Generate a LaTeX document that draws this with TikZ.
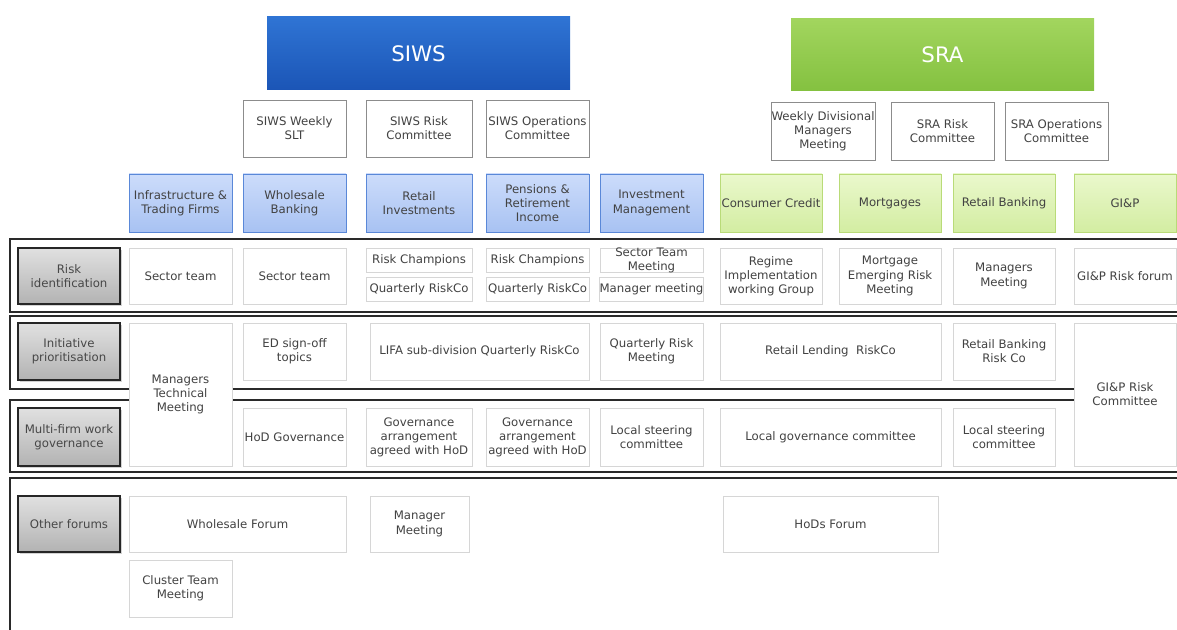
\documentclass[tikz,border=0pt]{standalone}
\usepackage{fontspec}
\setmainfont{DejaVu Sans}
\usetikzlibrary{shadows}
\definecolor{txt}{HTML}{424242}
\definecolor{cellborder}{HTML}{D6D6D6}
\definecolor{comborder}{HTML}{8C8C8C}
\definecolor{bluetop}{HTML}{CCDCFB}
\definecolor{bluebot}{HTML}{A8C2F2}
\definecolor{blueedge}{HTML}{5A88D8}
\definecolor{greentop}{HTML}{EAF8CC}
\definecolor{greenbot}{HTML}{D3EDA2}
\definecolor{greenedge}{HTML}{B9DB78}
\definecolor{siwstop}{HTML}{2F74D4}
\definecolor{siwsbot}{HTML}{1B55B6}
\definecolor{sratop}{HTML}{A2D55E}
\definecolor{srabot}{HTML}{84C140}
\definecolor{frame}{HTML}{2A2A2A}
\newcommand\mybox[7]{\node[#2, minimum width={(#5-#3)*0.75pt}, minimum height={(#6-#4)*0.75pt}] (#1) at ({(#3+#5)/2},{(#4+#6)/2}) {#7};}
\tikzset{
  base/.style={rectangle, align=center, inner sep=1pt, font=\fontsize{8.8}{10.6}\selectfont, text=txt},
  cell/.style={base, draw=cellborder, fill=white, line width=0.6pt},
  com/.style={base, draw=comborder, fill=white, line width=0.7pt},
  bluediv/.style={base, draw=blueedge, line width=0.7pt, top color=bluetop, bottom color=bluebot},
  greendiv/.style={base, draw=greenedge, line width=0.7pt, top color=greentop, bottom color=greenbot},
  rowlabel/.style={base, draw=black!85, line width=0.9pt, top color=black!12, bottom color=black!30, text=black!72,
     drop shadow={shadow xshift=1.2pt, shadow yshift=-1.2pt, opacity=0.35}},
  title/.style={base, font=\fontsize{16}{18}\selectfont, text=white},
  band/.style={draw=frame, line width=1.2pt},
  overtext/.style={base, inner sep=0pt},
}
\begin{document}
\begin{tikzpicture}[x=0.75pt, y=-0.75pt]
\useasboundingbox (0,0) rectangle (1177,630);
% bands
\draw[band] (1177,239) -- (10,239) -- (10,312) -- (1177,312);
\draw[band] (1076,389) -- (10,389) -- (10,316) -- (1177,316);
\draw[band] (1076,400) -- (10,400) -- (10,472) -- (1177,472);
\draw[band] (10,630) -- (10,478) -- (1177,478);
% titles
\mybox{siws}{title, top color=siwstop, bottom color=siwsbot}{267}{17}{570}{90}{SIWS}
\mybox{sra}{title, top color=sratop, bottom color=srabot}{791}{19}{1094}{91}{SRA}
% committees
\mybox{c1}{com}{243}{100}{346}{157}{SIWS Weekly\\SLT}
\mybox{c2}{com}{366}{100}{472}{157}{SIWS Risk\\Committee}
\mybox{c3}{com, inner xsep=0pt}{486}{100}{589}{157}{SIWS Operations\\Committee}
\mybox{c4}{com, inner xsep=0pt}{771}{102}{875}{160}{Weekly Divisional\\Managers\\Meeting}
\mybox{c5}{com}{891}{102}{994}{160}{SRA Risk\\Committee}
\mybox{c6}{com}{1005}{102}{1108}{160}{SRA Operations\\Committee}
% divisions
\mybox{d1}{bluediv, inner xsep=0pt}{129}{174}{232}{232}{Infrastructure \&\\Trading Firms}
\mybox{d2}{bluediv}{243}{174}{346}{232}{Wholesale\\Banking}
\mybox{d3}{bluediv}{366}{174}{472}{232}{Retail\\Investments}
\mybox{d4}{bluediv}{486}{174}{589}{232}{Pensions \&\\Retirement\\Income}
\mybox{d5}{bluediv}{600}{174}{703}{232}{Investment\\Management}
\mybox{d6}{greendiv, inner xsep=0pt}{720}{174}{822}{232}{Consumer Credit}
\mybox{d7}{greendiv}{839}{174}{941}{232}{Mortgages}
\mybox{d8}{greendiv}{953}{174}{1055}{232}{Retail Banking}
\mybox{d9}{greendiv}{1074}{174}{1176}{232}{GI\&P}
% row labels
\mybox{l1}{rowlabel}{18}{248}{120}{304}{Risk\\identification}
\mybox{l2}{rowlabel}{18}{323}{120}{380}{Initiative\\prioritisation}
\mybox{l3}{rowlabel}{18}{408}{120}{466}{Multi-firm work\\governance}
\mybox{l4}{rowlabel}{18}{496}{120}{552}{Other forums}
% row 1
\mybox{r1a}{cell}{129}{248}{232}{304}{Sector team}
\mybox{r1b}{cell}{243}{248}{346}{304}{Sector team}
\mybox{r1c}{cell}{366}{248}{472}{272}{Risk Champions}
\mybox{r1d}{cell}{366}{277}{472}{301}{Quarterly RiskCo}
\mybox{r1e}{cell}{486}{248}{589}{272}{Risk Champions}
\mybox{r1f}{cell, inner xsep=0pt}{486}{277}{589}{301}{Quarterly RiskCo}
\mybox{r1g}{cell}{600}{248}{703}{272}{}
\node[overtext] (r1gt) at (r1g.center) {Sector Team\\Meeting};
\mybox{r1h}{cell, inner xsep=0pt}{600}{277}{703}{301}{Manager meeting}
\mybox{r1i}{cell}{720}{248}{822}{304}{Regime\\Implementation\\working Group}
\mybox{r1j}{cell}{839}{248}{941}{304}{Mortgage\\Emerging Risk\\Meeting}
\mybox{r1k}{cell}{953}{248}{1055}{304}{Managers\\Meeting}
\mybox{r1l}{cell, inner xsep=0pt}{1074}{248}{1176}{304}{GI\&P Risk forum}
% row 2
\mybox{r2a}{cell}{129}{323}{232}{466}{Managers\\Technical\\Meeting}
\mybox{r2b}{cell}{243}{323}{346}{380}{ED sign-off\\topics}
\mybox{r2c}{cell}{370}{323}{589}{380}{LIFA sub-division Quarterly RiskCo}
\mybox{r2d}{cell}{600}{323}{703}{380}{Quarterly Risk\\Meeting}
\mybox{r2e}{cell}{720}{323}{941}{380}{Retail Lending\ \ RiskCo}
\mybox{r2f}{cell}{953}{323}{1055}{380}{Retail Banking\\Risk Co}
\mybox{r2g}{cell}{1074}{323}{1176}{466}{GI\&P Risk\\Committee}
% row 3
\mybox{r3a}{cell}{243}{408}{346}{466}{HoD Governance}
\mybox{r3b}{cell, inner xsep=0pt}{366}{408}{472}{466}{Governance\\arrangement\\agreed with HoD}
\mybox{r3c}{cell, inner xsep=0pt}{486}{408}{589}{466}{Governance\\arrangement\\agreed with HoD}
\mybox{r3d}{cell}{600}{408}{703}{466}{Local steering\\committee}
\mybox{r3e}{cell}{720}{408}{941}{466}{Local governance committee}
\mybox{r3f}{cell}{953}{408}{1055}{466}{Local steering\\committee}
% row 4
\mybox{r4a}{cell}{129}{496}{346}{552}{Wholesale Forum}
\mybox{r4b}{cell}{370}{496}{469}{552}{Manager\\Meeting}
\mybox{r4c}{cell}{723}{496}{938}{552}{HoDs Forum}
\mybox{r4d}{cell}{129}{560}{232}{617}{Cluster Team\\Meeting}
\end{tikzpicture}
\end{document}
